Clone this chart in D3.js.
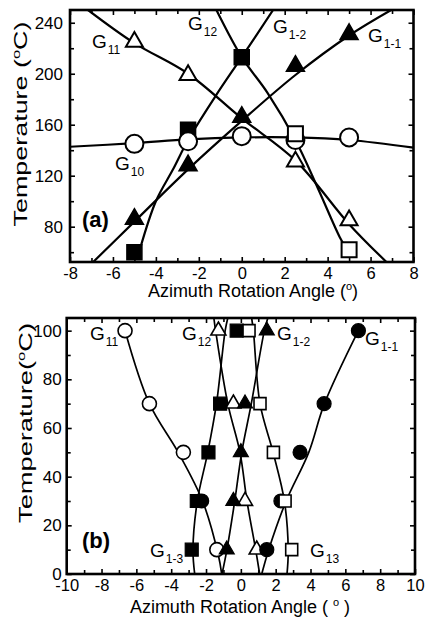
<!DOCTYPE html>
<html>
<head>
<meta charset="utf-8">
<script src="https://cdn.jsdelivr.net/npm/d3@7"></script>
<style>
body { margin: 0; background: #fff; }
</style>
</head>
<body>
<script>
// ---- panel (a) markers, [angle, temperature]
var aOpenTri  = [[-5, 225], [-2.5, 199], [2.5, 131], [5, 85]];            // G11
var aOpenCirc = [[-5, 145], [-2.5, 147], [0, 151], [2.5, 148], [5, 150]]; // G10
var aFillTri  = [[-5, 86], [-2.5, 128], [0, 166], [2.5, 206], [5, 231]];  // G1-1
var aFillSq   = [[-5, 60], [-2.5, 156], [0, 213]];                        // G1-2
var aOpenSq   = [[2.5, 153], [5, 62]];                                    // G12

// panel (a) fitted curves
var aFitG10  = [[-8, 142.7], [-5, 145.5], [-2.5, 148.5], [0, 150], [2.5, 150], [5, 148], [8, 142]];
var aFitG11  = [[-7.16, 250], [-5, 224], [-2.5, 200], [0, 165], [2.5, 132], [5, 82], [6.74, 52.3]];
var aFitG1_1 = [[-6.92, 52.3], [-5, 84], [-2.5, 125], [0, 163], [2.5, 199], [5, 230], [6.96, 250]];
var aFitG1_2 = [[-4.75, 62], [-4, 100], [-3.2, 125], [-2.5, 148], [-1.2, 183], [0, 213], [1.46, 250]];
var aFitG12  = [[-1.18, 250], [0, 213], [1.2, 185], [2.5, 148], [3.55, 110], [4.56, 72], [4.9, 62]];

// ---- panel (b) markers
var bOpenCirc = [[-6.65, 100], [-5.25, 70], [-3.3, 50], [-1.38, 10]];                      // G11
var bOpenTri  = [[-1.29, 100], [-0.43, 70], [0.24, 30], [0.91, 10]];                       // G12
var bFillTri  = [[1.49, 100], [0.24, 70], [0, 50], [-0.43, 30], [-0.81, 10]];              // G1-2
var bFillCirc = [[6.75, 100], [4.78, 70], [3.4, 50], [2.3, 30], [-2.25, 30], [1.49, 10]];  // G1-1
var bFillSq   = [[-0.24, 100], [-1.19, 70], [-1.86, 50], [-2.53, 30], [-2.82, 10]];        // G1-3
var bOpenSq   = [[0.47, 100], [1.1, 70], [1.87, 50], [2.54, 30], [2.92, 10]];              // G13

// panel (b) fitted curves
var bFitG11  = [[-6.65, 100], [-5.25, 70], [-3.6, 50], [-2.2, 30], [-1.3, 8], [-1.1, 0]];
var bFitG1_1 = [[6.75, 100], [4.8, 70], [3.9, 50], [2.6, 30], [1.6, 10], [1.2, 0]];
var bFitG12  = [[-1.55, 105.2], [-1.45, 100], [-0.75, 70], [-0.05, 50], [0.35, 30], [0.85, 10], [1.08, 0]];
var bFitG1_2 = [[1.55, 105.2], [1.35, 100], [0.6, 70], [0.05, 50], [-0.35, 30], [-0.8, 10], [-1.08, 0]];
var bFitG1_3 = [[-0.75, 105.2], [-0.9, 100], [-1.4, 70], [-1.9, 50], [-2.5, 30], [-2.75, 10], [-2.65, 0]];
var bFitG13  = [[0.62, 105.2], [0.72, 100], [1.1, 70], [1.85, 50], [2.5, 30], [2.72, 10], [2.65, 0]];

// ticks
var aXMajor = [-8, -6, -4, -2, 0, 2, 4, 6, 8];
var aXMinor = [-7, -5, -3, -1, 1, 3, 5, 7];
var aYMajor = [80, 120, 160, 200, 240];
var aYMinor = [60, 100, 140, 180, 220];
var bXMajor = [-10, -8, -6, -4, -2, 0, 2, 4, 6, 8, 10];
var bXMinor = [-9, -7, -5, -3, -1, 1, 3, 5, 7, 9];
var bYMajor = [0, 20, 40, 60, 80, 100];
var bYMinor = [10, 30, 50, 70, 90];

var FONT = "'Liberation Sans', Arial, Helvetica, sans-serif";

var svg = d3.select("body").append("svg")
    .attr("width", 426)
    .attr("height", 618)
    .style("background", "#fff");

// plain hyphen for negatives, like the original
function plain(d) { return String(d); }

function drawAxes(g, x, y, o) {
    var x0 = x.range()[0], x1 = x.range()[1];
    var y0 = y.range()[0], y1 = y.range()[1];

    var bottom = g.append("g").attr("transform", "translate(0," + y0 + ")");
    bottom.call(d3.axisBottom(x).tickValues(o.xMajor).tickSize(-5).tickPadding(o.xPad).tickFormat(plain));
    bottom.append("g").call(d3.axisBottom(x).tickValues(o.xMinor).tickSize(-4).tickFormat(""));

    var top = g.append("g").attr("transform", "translate(0," + y1 + ")");
    top.call(d3.axisTop(x).tickValues(o.xMajor).tickSize(-5).tickFormat(""));
    top.append("g").call(d3.axisTop(x).tickValues(o.xMinor).tickSize(-4).tickFormat(""));

    var left = g.append("g").attr("transform", "translate(" + x0 + ",0)");
    left.call(d3.axisLeft(y).tickValues(o.yMajor).tickSize(-5).tickPadding(o.yPad).tickFormat(plain));
    left.append("g").call(d3.axisLeft(y).tickValues(o.yMinor).tickSize(-4).tickFormat(""));

    var right = g.append("g").attr("transform", "translate(" + x1 + ",0)");
    right.call(d3.axisRight(y).tickValues(o.yMajor).tickSize(-5).tickFormat(""));
    right.append("g").call(d3.axisRight(y).tickValues(o.yMinor).tickSize(-4).tickFormat(""));

    g.selectAll(".domain").remove();
    g.selectAll(".tick line").attr("stroke", "#000").attr("stroke-width", 1.6);
    g.selectAll(".tick text")
        .attr("fill", "#000")
        .style("font-family", FONT)
        .style("font-size", "17px");
    bottom.selectAll(".tick text").style("font-size", "16.5px");

    g.append("rect")
        .attr("x", x0).attr("y", y1)
        .attr("width", x1 - x0).attr("height", y0 - y1)
        .attr("fill", "none").attr("stroke", "#000").attr("stroke-width", 2.6);
}

function drawFits(g, x, y, fits, sw, clipId) {
    var line = d3.line()
        .x(function(d) { return x(d[0]); })
        .y(function(d) { return y(d[1]); })
        .curve(d3.curveCatmullRom.alpha(0.5));
    g.append("clipPath").attr("id", clipId).append("rect")
        .attr("x", x.range()[0]).attr("y", y.range()[1])
        .attr("width", x.range()[1] - x.range()[0])
        .attr("height", y.range()[0] - y.range()[1]);
    var lg = g.append("g").attr("clip-path", "url(#" + clipId + ")");
    fits.forEach(function(f) {
        lg.append("path").datum(f)
            .attr("d", line)
            .attr("fill", "none")
            .attr("stroke", "#000")
            .attr("stroke-width", sw);
    });
}

function drawMarkers(g, x, y, data, shape, filled, size, sw) {
    var type = shape === "circle" ? d3.symbolCircle : shape === "square" ? d3.symbolSquare : d3.symbolTriangle;
    var area = shape === "circle" ? Math.PI * size * size / 4
             : shape === "square" ? size * size
             : Math.sqrt(3) * size * size / 4;
    g.selectAll(null).data(data).enter().append("path")
        .attr("transform", function(d) { return "translate(" + x(d[0]) + "," + y(d[1]) + ")"; })
        .attr("d", d3.symbol().type(type).size(area))
        .attr("fill", filled ? "#000" : "#fff")
        .attr("stroke", "#000")
        .attr("stroke-width", sw);
}

function gLabel(g, px, py, sub, fs) {
    var t = g.append("text")
        .attr("x", px).attr("y", py)
        .style("font-family", FONT)
        .style("font-size", fs + "px")
        .text("G");
    t.append("tspan").attr("dx", 1).attr("dy", 6).style("font-size", "12px").text(sub);
}

function xTitle(g, cx, by, pre, post) {
    var t = g.append("text")
        .attr("x", cx).attr("y", by)
        .attr("text-anchor", "middle")
        .style("font-family", FONT).style("font-size", "18px")
        .text(pre);
    t.append("tspan").attr("dy", -7).style("font-size", "11px").text("o");
    t.append("tspan").attr("dy", 7).text(post);
}

function yTitle(g, bx, cy, pre, post, len) {
    var t = g.append("text")
        .attr("text-anchor", "middle")
        .style("font-family", FONT).style("font-size", "18px")
        .text(pre);
    t.append("tspan").attr("dy", -7).style("font-size", "11px").text("o");
    t.append("tspan").attr("dy", 7).text(post);
    var s = len / t.node().getComputedTextLength();
    t.attr("transform", "translate(" + bx + "," + cy + ") rotate(-90) scale(" + s + ",1)");
}

// ================= panel (a) =================
var ax = d3.scaleLinear().domain([-8, 8]).range([70, 413.5]);
var ay = d3.scaleLinear().domain([52.3, 250]).range([262, 10]);
var ga = svg.append("g");

drawFits(ga, ax, ay, [aFitG10, aFitG11, aFitG1_1, aFitG1_2, aFitG12], 2.2, "clipA");
drawMarkers(ga, ax, ay, aFillSq, "square", true, 15, 1.5);
drawMarkers(ga, ax, ay, aFillTri, "triangle", true, 18, 1.5);
drawMarkers(ga, ax, ay, aOpenTri, "triangle", false, 17, 2);
drawMarkers(ga, ax, ay, aOpenCirc, "circle", false, 18, 2);
drawMarkers(ga, ax, ay, aOpenSq, "square", false, 15, 2);
drawAxes(ga, ax, ay, {xMajor: aXMajor, xMinor: aXMinor, yMajor: aYMajor, yMinor: aYMinor, xPad: 5, yPad: 7});

gLabel(ga, 92, 47.5, "11", 19);
gLabel(ga, 188, 30, "12", 19);
gLabel(ga, 273, 33, "1-2", 19);
gLabel(ga, 368, 42, "1-1", 19);
gLabel(ga, 115, 170, "10", 19);
ga.append("text").attr("x", 82).attr("y", 227)
    .style("font-family", FONT).style("font-size", "22px").style("font-weight", "bold")
    .text("(a)");
xTitle(ga, 253, 297, "Azimuth Rotation Angle (", ")");
yTitle(ga, 27, 124, "Temperature (", "C)", 205);

// ================= panel (b) =================
var bx = d3.scaleLinear().domain([-10, 10]).range([66.7, 415]);
var by = d3.scaleLinear().domain([0, 105.2]).range([574, 318]);
var gb = svg.append("g");

drawFits(gb, bx, by, [bFitG11, bFitG1_1, bFitG12, bFitG1_2, bFitG1_3, bFitG13], 1.7, "clipB");
drawMarkers(gb, bx, by, bOpenCirc, "circle", false, 14, 1.6);
drawMarkers(gb, bx, by, bOpenTri, "triangle", false, 15, 1.6);
drawMarkers(gb, bx, by, bFillTri, "triangle", true, 15, 1.2);
drawMarkers(gb, bx, by, bFillCirc, "circle", true, 14, 1.2);
drawMarkers(gb, bx, by, bFillSq, "square", true, 13, 1.2);
drawMarkers(gb, bx, by, bOpenSq, "square", false, 12, 1.6);
drawAxes(gb, bx, by, {xMajor: bXMajor, xMinor: bXMinor, yMajor: bYMajor, yMinor: bYMinor, xPad: 5, yPad: 5});

gLabel(gb, 90, 340, "11", 19);
gLabel(gb, 182, 340, "12", 19);
gLabel(gb, 277, 340, "1-2", 19);
gLabel(gb, 365, 345, "1-1", 19);
gLabel(gb, 150, 557, "1-3", 19);
gLabel(gb, 310, 557, "13", 19);
gb.append("text").attr("x", 82).attr("y", 548)
    .style("font-family", FONT).style("font-size", "22px").style("font-weight", "bold")
    .text("(b)");
xTitle(gb, 240, 613, "Azimuth Rotation Angle ( ", " )");
yTitle(gb, 32, 423, "Temperature(", "C)", 200);
</script>
</body>
</html>
